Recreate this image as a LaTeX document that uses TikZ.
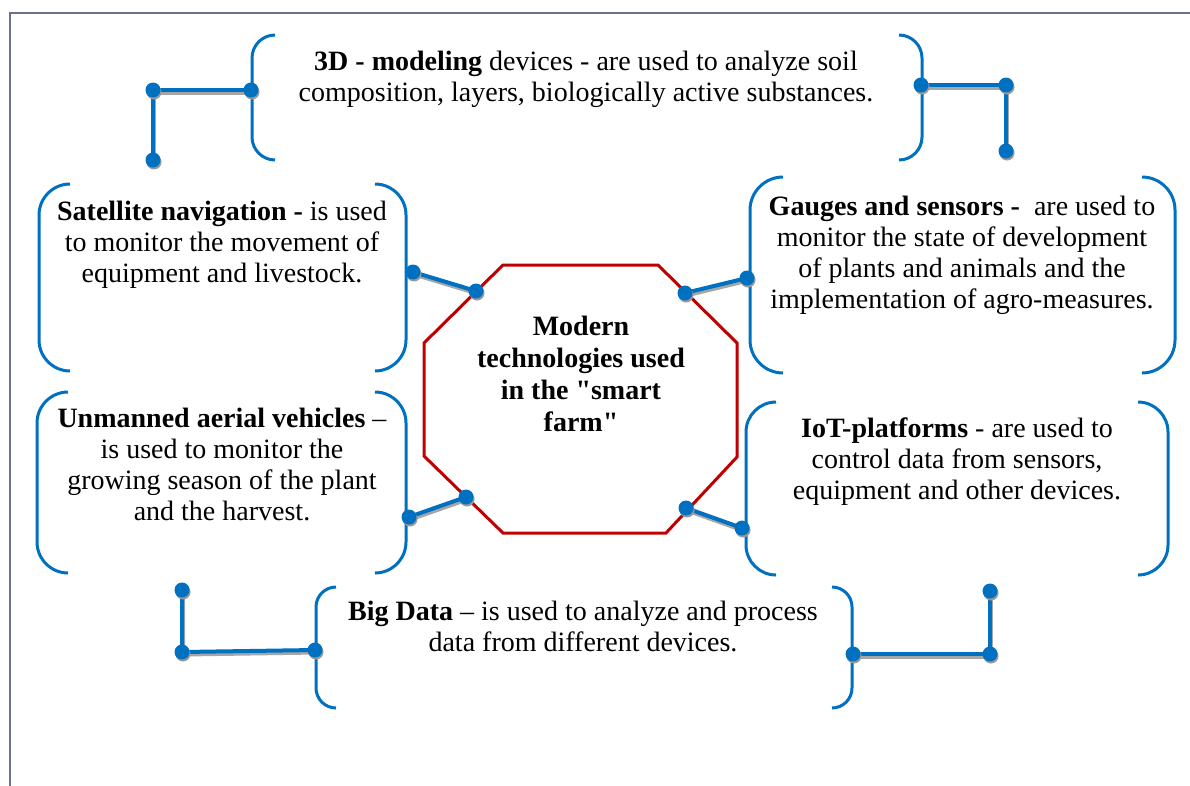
\documentclass[tikz,border=0pt]{standalone}
\usepackage{fontspec}
\setmainfont{Liberation Serif}[Ligatures=TeXOff]
\usetikzlibrary{shadows}
\definecolor{myblue}{RGB}{0,112,192}
\definecolor{myred}{RGB}{192,0,0}
\definecolor{framegray}{RGB}{105,115,135}
\newcommand{\myLB}[4]{\draw[brk] (#1+#4,#2) .. controls (#1+0.45*#4,#2) and (#1,#2+0.45*#4) .. (#1,#2+#4) -- (#1,#3-#4) .. controls (#1,#3-0.45*#4) and (#1+0.45*#4,#3) .. (#1+#4,#3);}
\newcommand{\myRB}[4]{\draw[brk] (#1-#4,#2) .. controls (#1-0.45*#4,#2) and (#1,#2+0.45*#4) .. (#1,#2+#4) -- (#1,#3-#4) .. controls (#1,#3-0.45*#4) and (#1-0.45*#4,#3) .. (#1-#4,#3);}
\begin{document}
\begin{tikzpicture}[x=1pt,y=-1pt,
  brk/.style={myblue, line width=3pt},
  conn/.style={myblue, line width=4pt,
    preaction={draw=black!35, line width=4pt, transform canvas={shift={(1.2pt,-2.5pt)}}}},
  dotn/.style={circle, fill=myblue, inner sep=0pt, minimum size=15pt,
    drop shadow={shadow xshift=1pt, shadow yshift=-2pt, fill=black!40, opacity=1}},
  txt/.style={align=center, inner sep=0pt, font=\fontsize{28}{31}\selectfont},
  octo/.style={myred, line width=3pt, line join=miter}]
\useasboundingbox (0,0) rectangle (1190,785);
\fill[white] (0,0) rectangle (1190,785);
% frame
\draw[framegray, line width=2.5pt] (10,786) -- (10,13) -- (1191,13);

% brackets
\myLB{252}{35}{160}{23}
\myRB{922}{35}{160}{23}
\myLB{39}{184}{371}{31}
\myRB{406}{184}{371}{31}
\myLB{37}{392}{573}{31}
\myRB{406}{392}{573}{31}
\myLB{750}{177}{373}{33}
\myRB{1175}{177}{373}{33}
\myLB{746}{402}{575}{30}
\myRB{1168}{402}{575}{30}
\myLB{316}{587}{708}{20}
\myRB{852}{587}{708}{20}

% octagon
\coordinate (o1) at (503,265);
\coordinate (o2) at (658,265);
\coordinate (o3) at (737,343);
\coordinate (o4) at (737,457);
\coordinate (o5) at (666,533);
\coordinate (o6) at (503,533);
\coordinate (o7) at (424,456);
\coordinate (o8) at (424,343);
\draw[octo] (o1) -- (o2) -- (o3) -- (o4) -- (o5) -- (o6) -- (o7) -- (o8) -- cycle;

% texts
\node[txt] (topT) at (586,79) {\textbf{3D - modeling} devices - are used to analyze soil\\composition, layers, biologically active substances.};
\node[txt] (satT) at (222,245) {\textbf{Satellite navigation -} is used\\to monitor the movement of\\equipment and livestock.};
\node[txt] (uavT) at (222,464) {\textbf{Unmanned aerial vehicles} –\\is used to monitor the\\growing season of the plant\\and the harvest.};
\node[txt] (gauT) at (962,255) {\textbf{Gauges and sensors -}\ \ are used to\\monitor the state of development\\of plants and animals and the\\implementation of agro-measures.};
\node[txt] (iotT) at (957,462) {\textbf{IoT-platforms} - are used to\\control data from sensors,\\equipment and other devices.};
\node[txt] (bigT) at (583,626) {\textbf{Big Data} – is used to analyze and process\\data from different devices.};
\node[txt, font=\fontsize{28}{32}\selectfont\bfseries] (cenT) at (581,374) {Modern\\technologies used\\in the "smart\\farm"};

% connector points
\coordinate (a1) at (251,90);
\coordinate (a2) at (153,90);
\coordinate (a3) at (153,160);
\coordinate (b1) at (921,85);
\coordinate (b2) at (1006,85);
\coordinate (b3) at (1006,151);
\coordinate (c1) at (476,291);
\coordinate (c2) at (413,272);
\coordinate (d1) at (685,293);
\coordinate (d2) at (747,278);
\coordinate (e1) at (466,497);
\coordinate (e2) at (409,517);
\coordinate (f1) at (686,508);
\coordinate (f2) at (742,528);
\coordinate (g1) at (315,650);
\coordinate (g2) at (182,652);
\coordinate (g3) at (182,590);
\coordinate (h1) at (853,654);
\coordinate (h2) at (990,654);
\coordinate (h3) at (990,591);

\draw[conn] (a3) -- (a2) -- (a1);
\draw[conn] (b1) -- (b2) -- (b3);
\draw[conn] (c1) -- (c2);
\draw[conn] (d1) -- (d2);
\draw[conn] (e1) -- (e2);
\draw[conn] (f1) -- (f2);
\draw[conn] (g3) -- (g2) -- (g1);
\draw[conn] (h1) -- (h2) -- (h3);

\foreach \p in {a1,a2,a3,b1,b2,b3,c1,c2,d1,d2,e1,e2,f1,f2,g1,g2,g3,h1,h2,h3}
  \node[dotn] (dot-\p) at (\p) {};
\end{tikzpicture}
\end{document}
